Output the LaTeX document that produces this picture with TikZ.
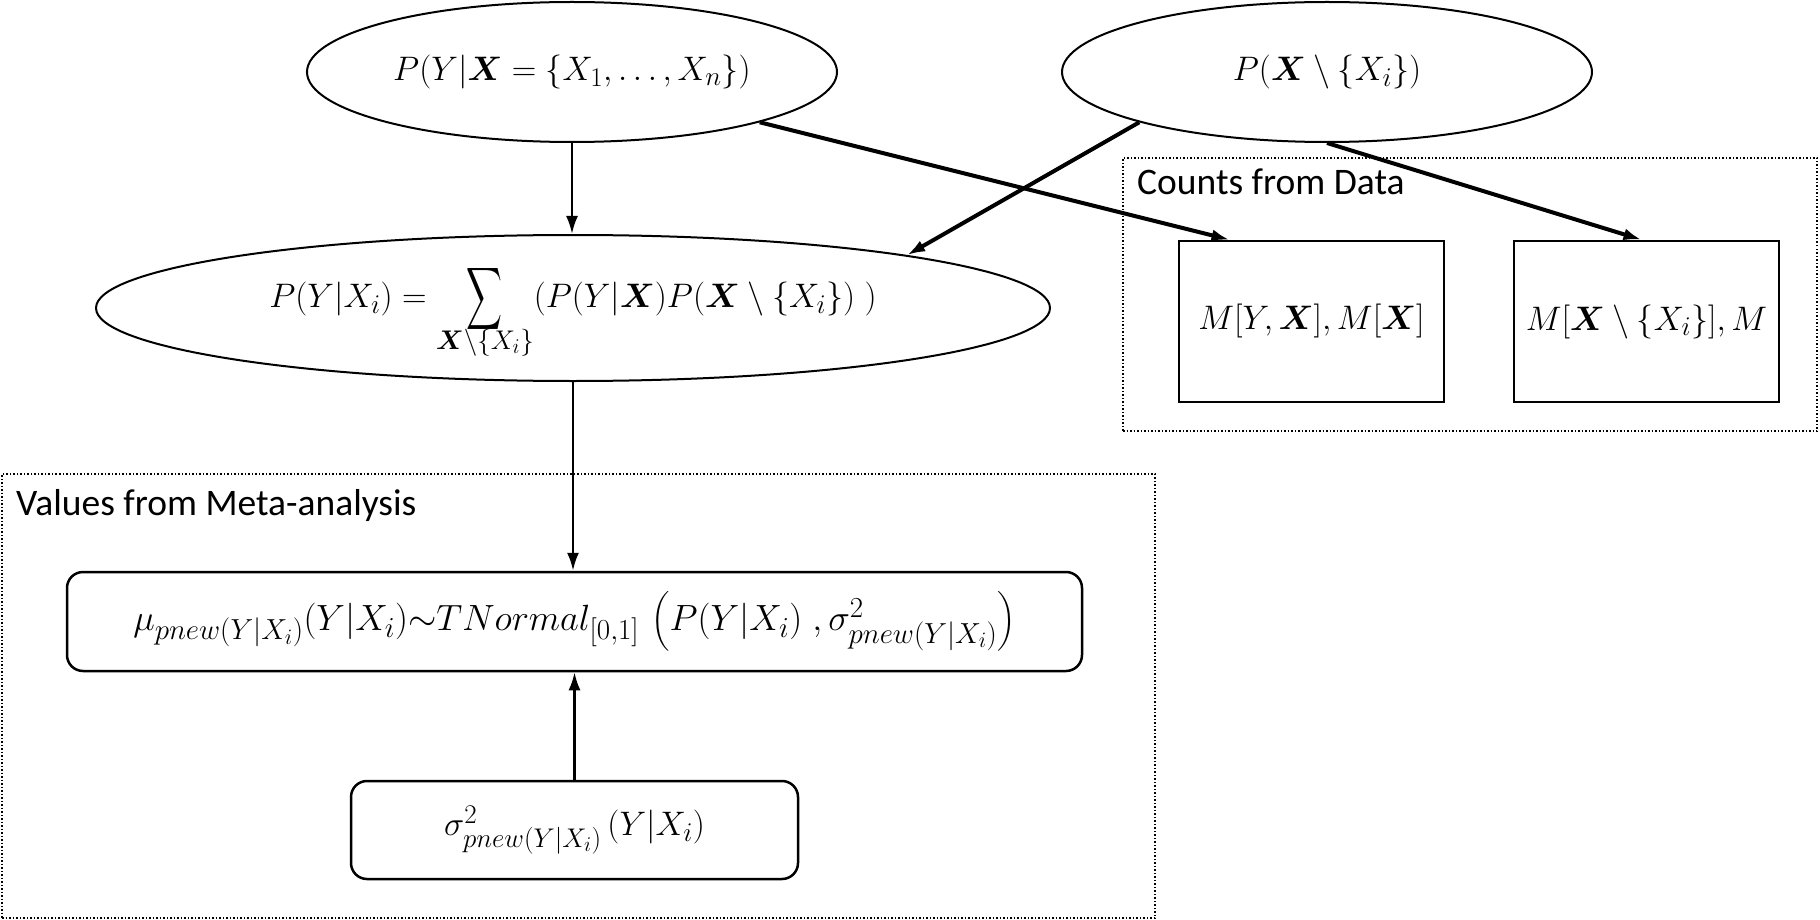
\RequirePackage{fix-cm}
\documentclass[tikz,border=0pt]{standalone}
\usepackage{amsmath}
\usepackage[no-math]{fontspec}
\setmainfont{Carlito}
\usepackage{graphicx}
\usetikzlibrary{shapes.geometric,arrows.meta,calc}
\DeclareMathSizes{34}{34}{27}{21}
\DeclareMathSizes{36.5}{36.5}{29}{22}
\newcommand\mfs{\fontsize{34}{41}\selectfont}
\newcommand\mufs{\fontsize{36.5}{43}\selectfont}
\newcommand\tfs{\fontsize{37.5}{44}\selectfont}
\begin{document}
\begin{tikzpicture}[x=1pt,y=-1pt,
  ell/.style={ellipse, draw, line width=2pt, inner sep=0pt, font=\mfs},
  cbox/.style={rectangle, draw, line width=2.5pt, minimum width=265pt, minimum height=161pt, inner sep=0pt, font=\mfs},
  rbox/.style={rectangle, rounded corners=16pt, draw, line width=2.5pt, inner sep=0pt, font=\mfs},
  grp/.style={rectangle, draw, dotted, line width=1.5pt, inner sep=0pt},
  lbl/.style={font=\tfs, anchor=base west, inner sep=0pt},
  arr/.style={-{Latex[length=18pt,width=12pt]}, line width=2.5pt},
  tarr/.style={arr, line width=4pt}]
\useasboundingbox (0,0) rectangle (1820,920);
% groups
\node[grp, minimum width=694pt, minimum height=273pt] (counts) at (1470,294.5) {};
\node[lbl] (countslbl) at (1137,195) {Counts from Data};
\node[grp, minimum width=1153pt, minimum height=444pt] (values) at (578.5,696) {};
\node[lbl] (valueslbl) at (16,515) {Values from Meta-analysis};
% nodes
\node[ell, minimum width=530pt, minimum height=140pt] (tl) at (572,72)
  {$P(Y|\boldsymbol{X}=\{X_1,\dots,X_n\})$};
\node[ell, minimum width=530pt, minimum height=140pt] (tr) at (1327,72)
  {$P(\boldsymbol{X}\setminus\{X_i\})$};
\node[ell, minimum width=954pt, minimum height=146pt] (mid) at (573,308)
  {$\displaystyle P(Y|X_i) = \mathop{\vcenter{\hbox{\scalebox{1}[1.75]{$\displaystyle\sum$}}}}\limits_{\smash{\boldsymbol{X}\setminus\{X_i\}}} (P(Y|\boldsymbol{X})P(\boldsymbol{X}\setminus\{X_i\})\;)$};
\node[cbox] (b1) at (1311.5,321.5) {$M[Y,\boldsymbol{X}],M[\boldsymbol{X}]$};
\node[cbox] (b2) at (1646.5,321.5) {$M[\boldsymbol{X}\setminus\{X_i\}],M$};
\node[rbox, minimum width=1015pt, minimum height=99pt, font=\mufs] (mu) at (574.5,621.5)
  {$\mu_{pnew(Y|X_i)}(Y|X_i){\sim}TNormal_{[0,1]}\,\left(P(Y|X_i)\;,\sigma^2_{pnew(Y|X_i)}\right)$};
\node[rbox, minimum width=447pt, minimum height=98pt] (sig) at (574.5,830)
  {$\sigma^2_{pnew(Y|X_i)}\,(Y|X_i)$};
% connectors
\draw[arr] (tl.south) -- (tl.south |- mid.north);
\draw[tarr] (tl.-15) -- ([xshift=-82pt]b1.north);
\draw[tarr] (tr.-165) -- (mid.9);
\draw[tarr] (tr.south) -- ([xshift=-5pt]b2.north);
\draw[arr] (mid.south) -- (mid.south |- mu.north);
\draw[arr] (sig.north) -- (sig.north |- mu.south);
\end{tikzpicture}
\end{document}
